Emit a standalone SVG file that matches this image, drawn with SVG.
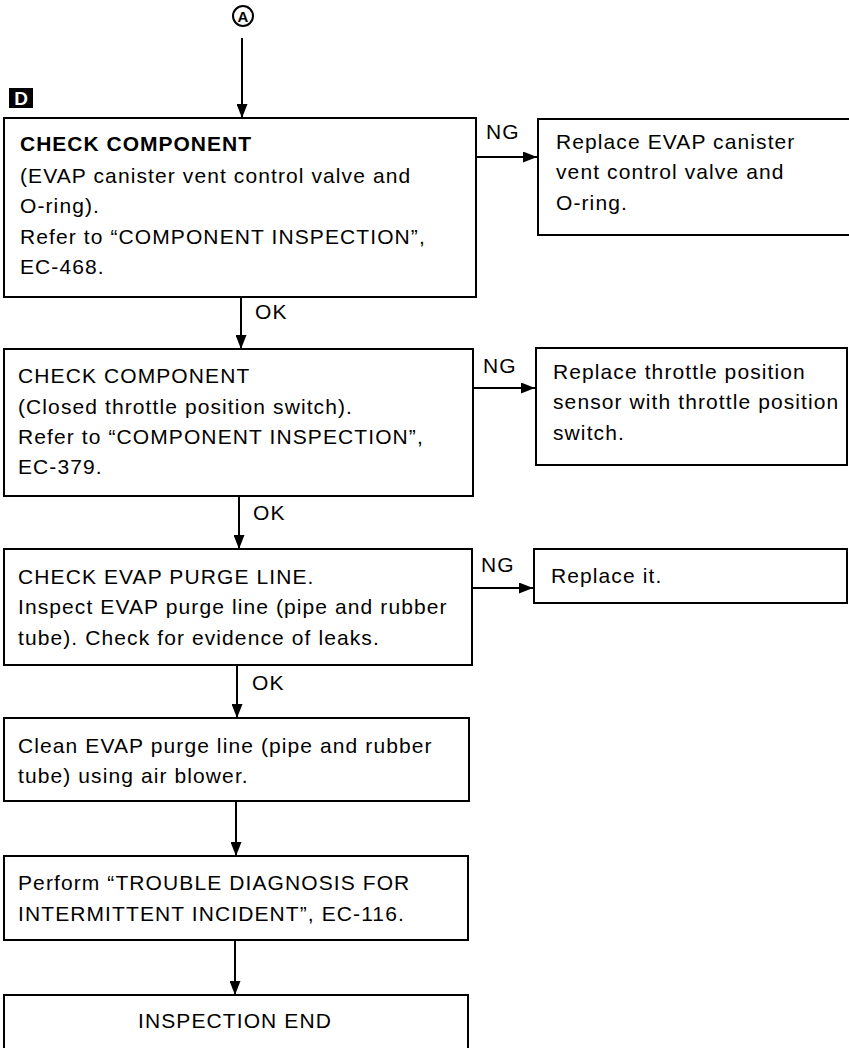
<svg xmlns="http://www.w3.org/2000/svg" width="849" height="1048" viewBox="0 0 849 1048">
<style>
.box{fill:#fff;stroke:#000;stroke-width:2}
.t{font-family:"Liberation Sans",Arial,sans-serif;font-size:21px;letter-spacing:1.1px;fill:#000}
.b{font-weight:bold;letter-spacing:1px}
.c{fill:none;stroke:#000;stroke-width:2}
</style>
<defs>
<marker id="ah" viewBox="0 0 14 11" refX="14" refY="5.5" markerWidth="14" markerHeight="11" markerUnits="userSpaceOnUse" orient="auto">
<path d="M0,0 L14,5.5 L0,11 Z" fill="#000"/>
</marker>
</defs>
<rect width="849" height="1048" fill="#fff"/>
<g id="start">
<circle cx="243" cy="16" r="10" fill="none" stroke="#000" stroke-width="2"/>
<text x="243" y="21.5" class="t b" style="font-size:15px;letter-spacing:0" text-anchor="middle">A</text>
</g>
<g id="marker-d">
<rect x="9" y="88" width="24" height="20" fill="#000"/>
<text x="21" y="105" class="t b" style="font-size:19px;fill:#fff;letter-spacing:0" text-anchor="middle">D</text>
</g>
<g id="connectors">
<path class="c" d="M242,38 V118" marker-end="url(#ah)"/>
<path class="c" d="M476,157 H537" marker-end="url(#ah)"/>
<path class="c" d="M241,297 V349" marker-end="url(#ah)"/>
<path class="c" d="M473,388 H535" marker-end="url(#ah)"/>
<path class="c" d="M239,496 V549" marker-end="url(#ah)"/>
<path class="c" d="M472,588 H533" marker-end="url(#ah)"/>
<path class="c" d="M237,665 V718" marker-end="url(#ah)"/>
<path class="c" d="M236,801 V856" marker-end="url(#ah)"/>
<path class="c" d="M235,940 V995" marker-end="url(#ah)"/>
<text x="486" y="139" class="t">NG</text>
<text x="483" y="373" class="t">NG</text>
<text x="481" y="572" class="t">NG</text>
<text x="255" y="319" class="t">OK</text>
<text x="253" y="520" class="t">OK</text>
<text x="252" y="690" class="t">OK</text>
</g>
<g id="n1">
<rect class="box" x="4" y="118" width="472" height="179"/>
<text class="t" x="20"><tspan x="20" y="151" class="b">CHECK COMPONENT</tspan><tspan x="20" y="183">(EVAP canister vent control valve and</tspan><tspan x="20" y="213">O-ring).</tspan><tspan x="20" y="244">Refer to “COMPONENT INSPECTION”,</tspan><tspan x="20" y="274">EC-468.</tspan></text>
</g>
<g id="n1ng">
<rect class="box" x="538" y="119" width="320" height="116"/>
<text class="t"><tspan x="556" y="149">Replace EVAP canister</tspan><tspan x="556" y="179">vent control valve and</tspan><tspan x="556" y="210">O-ring.</tspan></text>
</g>
<g id="n2">
<rect class="box" x="4" y="349" width="469" height="147"/>
<text class="t"><tspan x="18" y="383">CHECK COMPONENT</tspan><tspan x="18" y="414">(Closed throttle position switch).</tspan><tspan x="18" y="444">Refer to “COMPONENT INSPECTION”,</tspan><tspan x="18" y="474">EC-379.</tspan></text>
</g>
<g id="n2ng">
<rect class="box" x="536" y="348" width="311" height="117"/>
<text class="t"><tspan x="553" y="379">Replace throttle position</tspan><tspan x="553" y="409">sensor with throttle position</tspan><tspan x="553" y="440">switch.</tspan></text>
</g>
<g id="n3">
<rect class="box" x="4" y="549" width="468" height="116"/>
<text class="t"><tspan x="18" y="584">CHECK EVAP PURGE LINE.</tspan><tspan x="18" y="614">Inspect EVAP purge line (pipe and rubber</tspan><tspan x="18" y="645">tube). Check for evidence of leaks.</tspan></text>
</g>
<g id="n3ng">
<rect class="box" x="534" y="549" width="313" height="54"/>
<text class="t" x="551" y="583">Replace it.</text>
</g>
<g id="n4">
<rect class="box" x="4" y="718" width="465" height="83"/>
<text class="t"><tspan x="18" y="753">Clean EVAP purge line (pipe and rubber</tspan><tspan x="18" y="783">tube) using air blower.</tspan></text>
</g>
<g id="n5">
<rect class="box" x="4" y="856" width="464" height="84"/>
<text class="t"><tspan x="18" y="890">Perform “TROUBLE DIAGNOSIS FOR</tspan><tspan x="18" y="921">INTERMITTENT INCIDENT”, EC-116.</tspan></text>
</g>
<g id="n6">
<rect class="box" x="4" y="995" width="464" height="70"/>
<text class="t" x="235" y="1028" text-anchor="middle">INSPECTION END</text>
</g>
</svg>
